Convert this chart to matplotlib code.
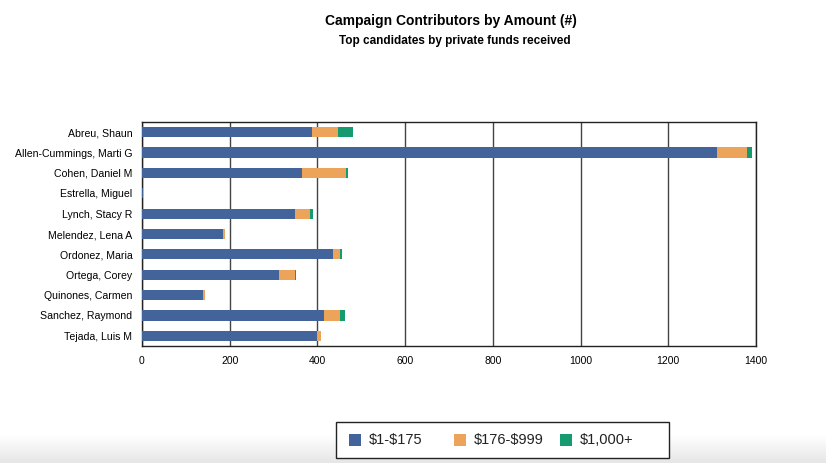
import matplotlib
matplotlib.use("Agg")
import matplotlib.pyplot as plt
import numpy as np
from matplotlib.patches import Rectangle

plt.rcParams['font.family'] = ['Liberation Sans', 'DejaVu Sans']

candidates = ["Abreu, Shaun", "Allen-Cummings, Marti G", "Cohen, Daniel M",
              "Estrella, Miguel", "Lynch, Stacy R", "Melendez, Lena A",
              "Ordonez, Maria", "Ortega, Corey", "Quinones, Carmen",
              "Sanchez, Raymond", "Tejada, Luis M"]
small = [388, 1310, 364, 3, 348, 184, 435, 313, 139, 414, 400]
medium = [60, 70, 100, 0, 36, 5, 16, 35, 4, 38, 7]
large = [32, 11, 5, 0, 5, 0, 4, 2, 0, 10, 0]
series_names = [r"\$1-\$175", r"\$176-\$999", r"\$1,000+"]
colors = ["#43649b", "#eca35a", "#169a6f"]
xticks = [0, 200, 400, 600, 800, 1000, 1200, 1400]

W, H = 826, 463
fig = plt.figure(figsize=(W / 100, H / 100), dpi=100)

# faint grey fade at the bottom of the page
bg = fig.add_axes([0, 0, 1, 0.06], zorder=-5)
grad = np.linspace(0, 1, 50).reshape(-1, 1)
bg.imshow(grad, aspect='auto', cmap=matplotlib.colors.LinearSegmentedColormap.from_list(
    "fade", ["#e6e6e6", "#ffffff"]), origin='lower', extent=[0, 1, 0, 1])
bg.axis('off')

ax = fig.add_axes([0.1719, 0.2527, 0.7434, 0.4838])
y = np.arange(len(candidates))
left = np.zeros(len(candidates))
for vals, name, c in zip([small, medium, large], series_names, colors):
    ax.barh(y, vals, left=left, height=0.5, color=c, label=name, zorder=3)
    left = left + np.array(vals)

ax.set_ylim(len(candidates) - 0.5, -0.5)
ax.set_yticks(y)
ax.set_yticklabels(candidates, fontsize=7.6)
ax.set_xlim(0, 1400)
ax.set_xticks(xticks)
ax.set_xticklabels([str(t) for t in xticks], fontsize=7.5)
ax.tick_params(axis='y', length=0, pad=7)
ax.tick_params(axis='x', length=0, pad=7)
ax.grid(axis='x', color='#444444', linewidth=1, zorder=1)
for s in ax.spines.values():
    s.set_color('#222222')
    s.set_linewidth(1)

fig.text(0.546, 0.955, "Campaign Contributors by Amount (#)", ha='center', va='center',
         fontsize=10, fontweight='bold')
fig.text(0.551, 0.912, "Top candidates by private funds received", ha='center', va='center',
         fontsize=8.5, fontweight='bold')

# legend box drawn by hand so the columns sit where the original has them
fig.patches.append(Rectangle((336 / W, 1 - 458 / H), 333 / W, 36 / H, transform=fig.transFigure,
                             facecolor='white', edgecolor='#222222', linewidth=1, zorder=5))
for i, (name, c) in enumerate(zip(series_names, colors)):
    x0 = [349, 454, 560][i]
    fig.patches.append(Rectangle((x0 / W, 1 - 446 / H), 12 / W, 12 / H, transform=fig.transFigure,
                                 facecolor=c, edgecolor='none', zorder=6))
    fig.text((x0 + 20) / W, 1 - 440 / H, name, ha='left', va='center', fontsize=10.5,
             color='#222222', zorder=7)

fig.savefig("out.png", dpi=100)
